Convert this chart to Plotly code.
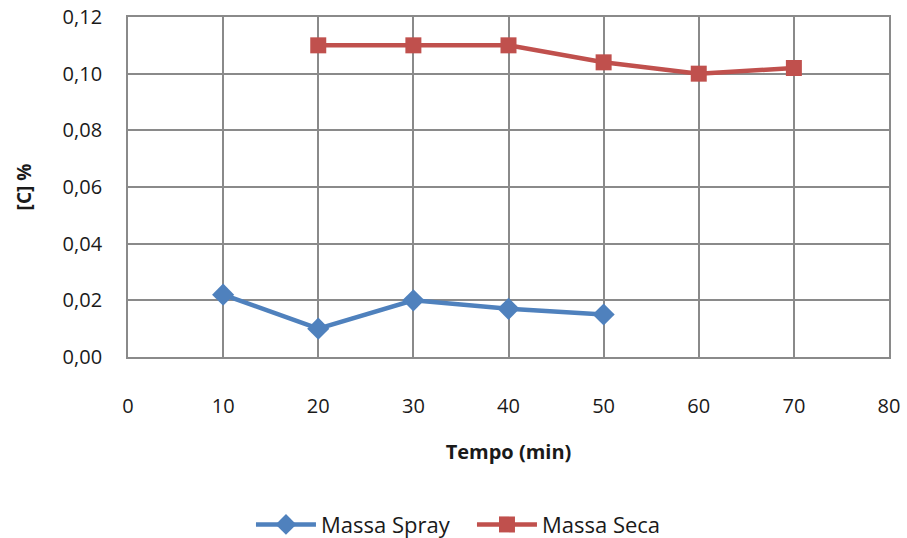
import plotly.graph_objects as go

# Carbon content over time for the two mass preparations
tempo_spray = [10, 20, 30, 40, 50]
conc_spray = [0.022, 0.010, 0.020, 0.017, 0.015]

tempo_seca = [20, 30, 40, 50, 60, 70]
conc_seca = [0.110, 0.110, 0.110, 0.104, 0.100, 0.102]

x_ticks = [0, 10, 20, 30, 40, 50, 60, 70, 80]
y_ticks = [0.00, 0.02, 0.04, 0.06, 0.08, 0.10, 0.12]
y_labels = ["0,00", "0,02", "0,04", "0,06", "0,08", "0,10", "0,12"]

FONT = "Open Sans"
GRID = "#8a8a8a"
TXT = "#1a1a1a"

fig = go.Figure()
fig.add_trace(go.Scatter(
    x=tempo_spray, y=conc_spray, name="Massa Spray", mode="lines+markers",
    line=dict(color="#4F81BD", width=4.5),
    marker=dict(symbol="diamond", size=17, color="#4F81BD"),
))
fig.add_trace(go.Scatter(
    x=tempo_seca, y=conc_seca, name="Massa Seca", mode="lines+markers",
    line=dict(color="#C0504D", width=4.5),
    marker=dict(symbol="square", size=16, color="#C0504D"),
))

fig.update_layout(
    width=907, height=538,
    margin=dict(l=128, r=18, t=17, b=181, autoexpand=False),
    paper_bgcolor="white", plot_bgcolor="white",
    font=dict(family=FONT, size=20, color=TXT),
    showlegend=True,
    legend=dict(orientation="h", x=0.452, xref="paper", xanchor="center",
                y=-0.493, yanchor="middle", font=dict(size=22, family=FONT),
                itemwidth=60, entrywidth=146, tracegroupgap=0),
    xaxis=dict(
        range=[0, 80], tickvals=x_ticks, ticktext=[str(v) for v in x_ticks],
        showgrid=True, gridcolor=GRID, gridwidth=1.8,
        showline=True, linecolor=GRID, linewidth=1.8, mirror=True,
        zeroline=False, ticks="", ticklabelstandoff=30, automargin=False,
        tickfont=dict(size=20, family=FONT),
        title=dict(text="<b>Tempo (min)</b>", font=dict(size=20, family=FONT), standoff=27),
    ),
    yaxis=dict(
        range=[0, 0.12], tickvals=y_ticks, ticktext=y_labels,
        showgrid=True, gridcolor=GRID, gridwidth=1.8,
        showline=True, linecolor=GRID, linewidth=1.8, mirror=True,
        zeroline=False, ticks="", ticklabelstandoff=20, automargin=False,
        tickfont=dict(size=20, family=FONT),
        title=dict(text="<b>[C] %</b>", font=dict(size=19, family=FONT), standoff=26),
    ),
)

fig.write_html("out.html")
